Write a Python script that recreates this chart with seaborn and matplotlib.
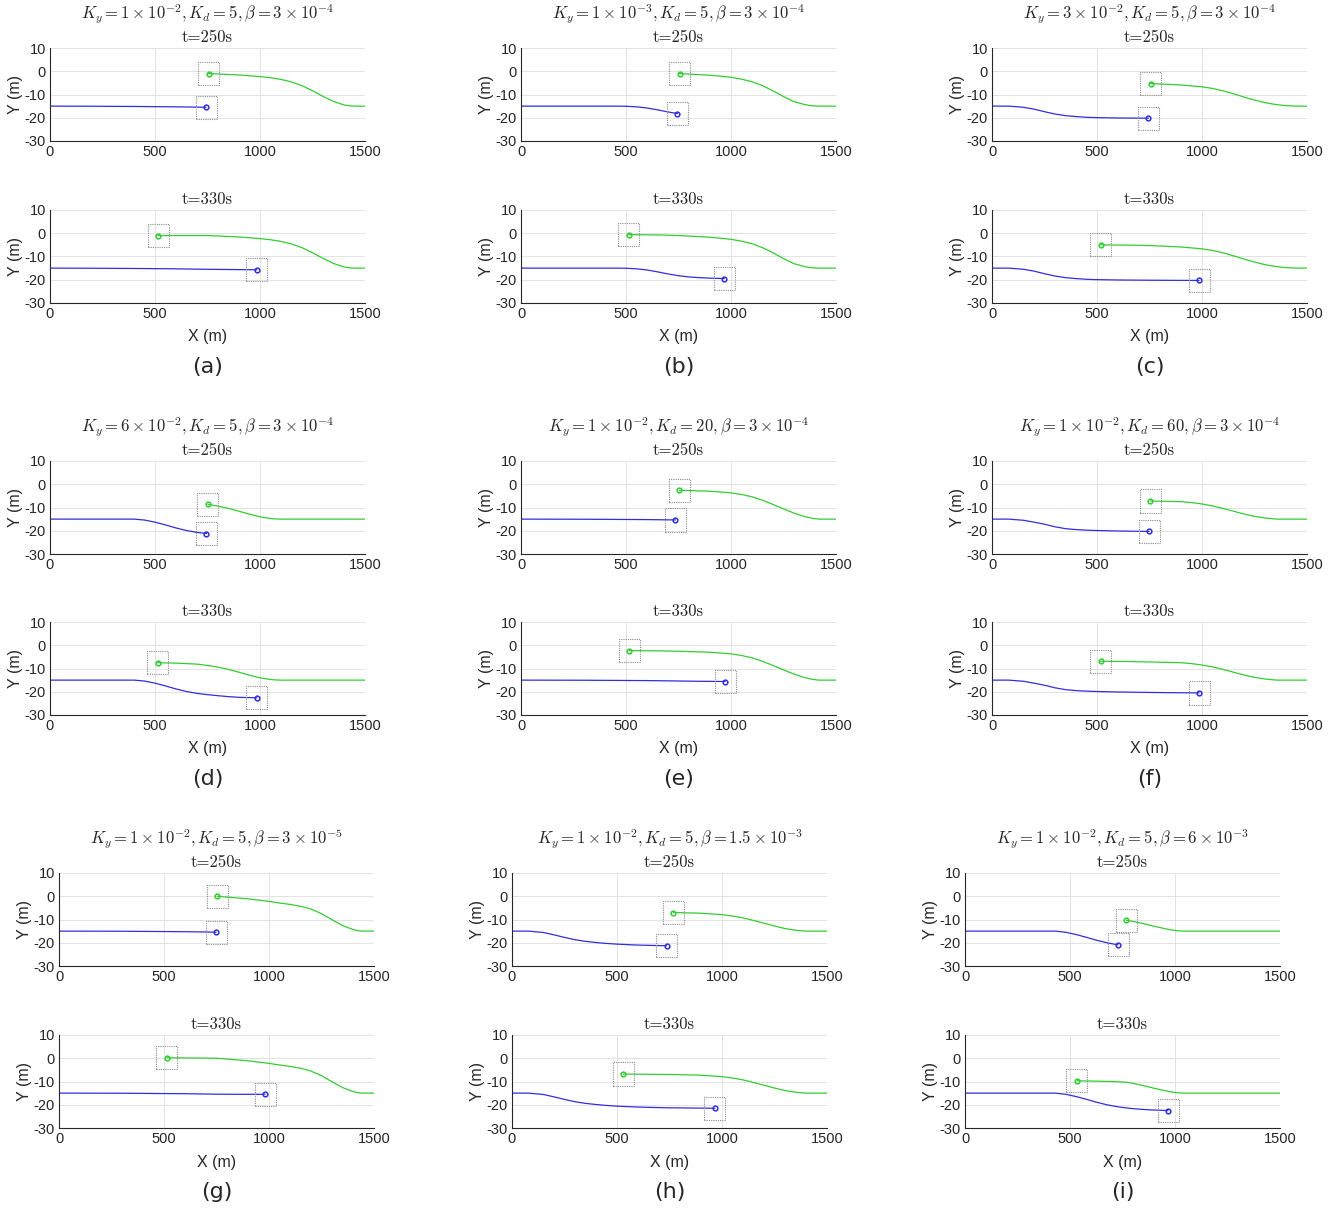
import numpy as np
import pandas as pd
import matplotlib
matplotlib.use("Agg")
import matplotlib.pyplot as plt
from matplotlib.patches import Rectangle
import seaborn as sns

# ---------------------------------------------------------------------------
# Parameter sets for the nine cases
panel_tags = ["(a)", "(b)", "(c)", "(d)", "(e)", "(f)", "(g)", "(h)", "(i)"]
case_titles = [
    r"$K_y = 1\times10^{-2}, K_d = 5, \beta = 3\times10^{-4}$",
    r"$K_y = 1\times10^{-3}, K_d = 5, \beta = 3\times10^{-4}$",
    r"$K_y = 3\times10^{-2}, K_d = 5, \beta = 3\times10^{-4}$",
    r"$K_y = 6\times10^{-2}, K_d = 5, \beta = 3\times10^{-4}$",
    r"$K_y = 1\times10^{-2}, K_d = 20, \beta = 3\times10^{-4}$",
    r"$K_y = 1\times10^{-2}, K_d = 60, \beta = 3\times10^{-4}$",
    r"$K_y = 1\times10^{-2}, K_d = 5, \beta = 3\times10^{-5}$",
    r"$K_y = 1\times10^{-2}, K_d = 5, \beta = 1.5\times10^{-3}$",
    r"$K_y = 1\times10^{-2}, K_d = 5, \beta = 6\times10^{-3}$",
]
time_labels = ["t=250s", "t=330s"]

# Trajectory of the vehicle travelling left -> right (blue), up to t=330s
blue_x = [
    [0, 200, 400, 600, 743, 850, 985],
    [0, 450, 500, 550, 600, 650, 700, 745, 800, 850, 900, 968],
    [0, 80, 150, 200, 250, 300, 350, 400, 450, 500, 600, 745, 850, 986],
    [0, 400, 450, 500, 550, 600, 650, 700, 745, 800, 850, 900, 985],
    [0, 300, 600, 735, 850, 973],
    [0, 80, 150, 200, 250, 300, 350, 400, 450, 500, 600, 748, 850, 986],
    [0, 300, 600, 748, 850, 981],
    [0, 80, 150, 200, 250, 300, 350, 400, 450, 500, 600, 736, 850, 966],
    [0, 430, 480, 530, 580, 630, 680, 729, 780, 830, 880, 967],
]
blue_y = [
    [-15, -15.05, -15.15, -15.3, -15.5, -15.6, -15.7],
    [-15, -15, -15.05, -15.3, -15.8, -16.6, -17.5, -18.2, -18.8, -19.1, -19.3, -19.5],
    [-15, -15, -15.5, -16.3, -17.4, -18.4, -19.1, -19.5, -19.8, -19.95, -20.1, -20.2, -20.25, -20.3],
    [-15, -15, -15.4, -16.3, -17.5, -18.8, -19.9, -20.7, -21.2, -21.7, -22.1, -22.4, -22.6],
    [-15, -15.05, -15.2, -15.35, -15.5, -15.6],
    [-15, -15, -15.5, -16.3, -17.2, -18.3, -19.1, -19.5, -19.75, -19.9, -20.1, -20.3, -20.4, -20.5],
    [-15, -15.05, -15.25, -15.45, -15.5, -15.5],
    [-15, -15, -15.6, -16.6, -17.7, -18.7, -19.4, -19.9, -20.3, -20.6, -21.0, -21.3, -21.4, -21.5],
    [-15, -15, -15.5, -16.5, -17.7, -19.0, -20.1, -20.9, -21.5, -21.9, -22.2, -22.5],
]

# Trajectory of the vehicle travelling right -> left (green), up to t=330s
green_x = [
    [1500, 1460, 1430, 1400, 1350, 1300, 1250, 1200, 1150, 1100, 1050, 1000, 900, 755, 650, 515],
    [1500, 1420, 1380, 1350, 1300, 1250, 1200, 1150, 1100, 1050, 1000, 900, 755, 650, 513],
    [1500, 1450, 1400, 1350, 1300, 1250, 1200, 1150, 1100, 1050, 1000, 900, 755, 650, 517],
    [1500, 1100, 1070, 1040, 1000, 950, 900, 850, 800, 752, 700, 600, 512],
    [1500, 1420, 1390, 1350, 1300, 1250, 1200, 1150, 1100, 1050, 1000, 900, 754, 650, 516],
    [1500, 1360, 1330, 1300, 1250, 1200, 1150, 1100, 1050, 1000, 950, 900, 754, 650, 517],
    [1500, 1450, 1420, 1400, 1350, 1300, 1250, 1200, 1150, 1100, 1050, 1000, 900, 753, 650, 514],
    [1500, 1400, 1370, 1350, 1300, 1250, 1200, 1150, 1100, 1050, 1000, 900, 769, 650, 529],
    [1500, 1050, 1020, 990, 950, 900, 850, 800, 767, 700, 600, 533],
]
green_y = [
    [-15, -15, -14.9, -14.5, -13.0, -10.8, -8.4, -6.2, -4.6, -3.5, -2.8, -2.3, -1.6, -1.0, -1.0, -1.0],
    [-15, -15, -14.8, -14.3, -13.1, -10.9, -8.4, -6.2, -4.5, -3.4, -2.6, -1.7, -1.0, -0.7, -0.6],
    [-15, -15, -14.8, -14.3, -13.5, -12.4, -11.1, -9.7, -8.4, -7.4, -6.7, -5.9, -5.3, -5.1, -5.0],
    [-15, -15, -14.9, -14.6, -14.0, -12.9, -11.6, -10.4, -9.4, -8.7, -8.1, -7.7, -7.5],
    [-15, -15, -14.7, -13.9, -12.4, -10.6, -8.7, -6.9, -5.4, -4.4, -3.7, -3.0, -2.6, -2.4, -2.3],
    [-15, -15, -14.8, -14.5, -13.8, -12.8, -11.6, -10.4, -9.3, -8.5, -7.9, -7.5, -7.2, -7.0, -6.9],
    [-15, -15, -14.8, -14.3, -12.6, -10.1, -7.5, -5.5, -4.3, -3.5, -2.9, -2.2, -1.1, 0.0, 0.1, 0.2],
    [-15, -15, -14.8, -14.6, -13.9, -12.8, -11.6, -10.4, -9.3, -8.5, -7.9, -7.3, -7.0, -6.9, -6.8],
    [-15, -15, -14.9, -14.6, -13.9, -12.9, -11.8, -10.8, -10.3, -10.0, -9.8, -9.7],
]

# Longitudinal positions reached at t=250s
blue_x_250 = [743, 745, 745, 745, 735, 748, 748, 736, 729]
green_x_250 = [755, 755, 755, 752, 754, 754, 753, 769, 767]

x_ticks = [0, 500, 1000, 1500]
y_ticks = [-30, -20, -10, 0, 10]

# ---------------------------------------------------------------------------
W, H = 1337, 1208
sns.set_theme(style="whitegrid")
plt.rcParams.update({
    "font.family": ["Liberation Sans", "DejaVu Sans"],
    "mathtext.fontset": "cm",
    "axes.edgecolor": "#262626",
    "axes.linewidth": 0.8,
    "grid.color": "#e3e3e3",
    "grid.linewidth": 0.7,
    "xtick.color": "#262626",
    "ytick.color": "#262626",
})

BLUE = "#2f2fe0"
GREEN = "#34cc34"
BOX = "#8c8c8c"

fig = plt.figure(figsize=(W / 100, H / 100), dpi=100)

col_left = [[50, 521, 992], [50, 521, 992], [59, 512, 965]]
row_top = [(48, 210), (461, 622), (873, 1035)]
AX_W, AX_H = 315, 93


def add_ax(left, top):
    return fig.add_axes([left / W, 1 - (top + AX_H) / H, AX_W / W, AX_H / H])


def draw_snapshot(ax, bx, by, gx, gy):
    df_b = pd.DataFrame({"x": bx, "y": by})
    df_g = pd.DataFrame({"x": gx, "y": gy})
    sns.lineplot(data=df_b, x="x", y="y", ax=ax, color=BLUE, lw=0.9,
                 sort=False, estimator=None)
    sns.lineplot(data=df_g, x="x", y="y", ax=ax, color=GREEN, lw=0.9,
                 sort=False, estimator=None)
    for (px, py), c in (((bx[-1], by[-1]), BLUE), ((gx[-1], gy[-1]), GREEN)):
        ax.plot([px], [py], marker="o", ms=3.4, mfc="none", mec=c, mew=1.1,
                zorder=5)
        ax.add_patch(Rectangle((px - 50, py - 5), 100, 10, fill=False,
                               ls=(0, (1, 1)), lw=0.8, ec=BOX, zorder=4))
    ax.set_xlim(0, 1500)
    ax.set_ylim(-30, 10)
    ax.set_xticks(x_ticks)
    ax.set_yticks(y_ticks)
    ax.set_xticklabels([str(v) for v in x_ticks])
    ax.set_yticklabels([str(v) for v in y_ticks])
    ax.tick_params(axis="both", direction="in", length=3, width=0.6,
                   labelsize=10.5, pad=3)
    for s in ("top", "right"):
        ax.spines[s].set_visible(False)
    ax.set_ylabel("Y (m)", fontsize=11.5, labelpad=1)
    ax.set_xlabel("")


for k in range(9):
    r, c = divmod(k, 3)
    left = col_left[r][c]
    top1, top2 = row_top[r]
    bx, by = np.array(blue_x[k], float), np.array(blue_y[k], float)
    gx, gy = np.array(green_x[k], float), np.array(green_y[k], float)

    m_b = bx <= blue_x_250[k]
    m_g = gx >= green_x_250[k]

    ax1 = add_ax(left, top1)
    draw_snapshot(ax1, bx[m_b], by[m_b], gx[m_g], gy[m_g])
    ax1.set_title(time_labels[0], fontsize=12, pad=4, family="cmr10")

    ax2 = add_ax(left, top2)
    draw_snapshot(ax2, bx, by, gx, gy)
    ax2.set_title(time_labels[1], fontsize=12, pad=4, family="cmr10")
    ax2.set_xlabel("X (m)", fontsize=11.5, labelpad=6)

    cx = (left + AX_W / 2) / W
    fig.text(cx, 1 - (top1 - 34) / H, case_titles[k], ha="center",
             va="center", fontsize=12)
    fig.text(cx, 1 - (top2 + AX_H + 64) / H, panel_tags[k], ha="center",
             va="center", fontsize=16, family="DejaVu Sans")

fig.savefig("out.png", dpi=100)
